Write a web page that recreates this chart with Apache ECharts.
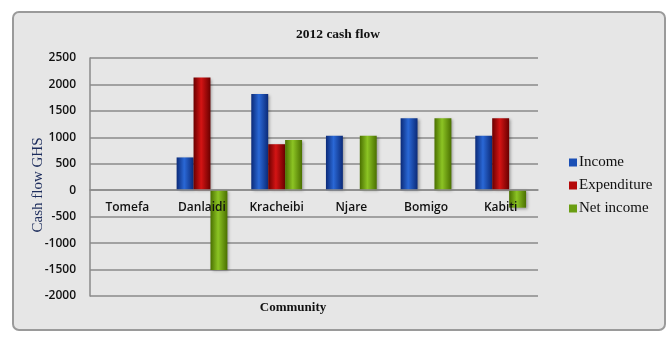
<!DOCTYPE html>
<html><head><meta charset="utf-8">
<script src="https://cdn.jsdelivr.net/npm/echarts@6/dist/echarts.min.js"></script>
<style>html,body{margin:0;padding:0;background:#fff}#c{width:672px;height:340px}</style>
</head><body><div id="c"></div>
<script>
const categories = ['Tomefa','Danlaidi','Kracheibi','Njare','Bomigo','Kabiti'];
const income = [0, 620, 1820, 1030, 1360, 1030];
const expenditure = [0, 2130, 870, 0, 0, 1360];
const netIncome = [0, -1510, 950, 1030, 1360, -330];
const yTicks = {min: -2000, max: 2500, interval: 500};

function grad(edge, mid) {
  return new echarts.graphic.LinearGradient(0, 0, 1, 0, [
    {offset: 0, color: edge}, {offset: 0.45, color: mid}, {offset: 1, color: edge}
  ]);
}
const serif = '"Liberation Serif", "DejaVu Serif", serif';
const sans = '"Open Sans", "Liberation Sans", sans-serif';
const chart = echarts.init(document.getElementById('c'), null, {renderer: 'canvas'});
function mk(name, data, edge, mid) {
  return {
    name, type: 'bar', data, barGap: '0%', barCategoryGap: '32%',
    itemStyle: {color: grad(edge, mid), shadowBlur: 3, shadowColor: 'rgba(0,0,0,0.35)', shadowOffsetX: 2, shadowOffsetY: 1},
    emphasis: {disabled: true}
  };
}
chart.setOption({
  animation: false,
  backgroundColor: '#ffffff',
  graphic: [{
    type: 'rect', z: -10, silent: true,
    shape: {x: 13, y: 12, width: 652, height: 318, r: 6},
    style: {fill: '#e6e6e6', stroke: '#9a9a9a', lineWidth: 2}
  }],
  title: {
    text: '2012 cash flow', left: 333, top: 23, textAlign: 'center',
    textStyle: {fontFamily: serif, fontWeight: 'bold', fontSize: 13.5, color: '#111'}
  },
  legend: {
    orient: 'vertical', left: 564, top: 150, itemWidth: 8, itemHeight: 8, itemGap: 8,
    icon: 'rect',
    textStyle: {fontFamily: serif, fontSize: 15, color: '#111', padding: [0, 0, 0, -3]},
    data: [
      {name: 'Income', itemStyle: {color: '#1a4fb5'}},
      {name: 'Expenditure', itemStyle: {color: '#b50808'}},
      {name: 'Net income', itemStyle: {color: '#6a9e12'}}
    ]
  },
  grid: {left: 90, right: 134, top: 58, bottom: 44, containLabel: false, outerBoundsMode: 'none'},
  xAxis: {
    type: 'category', data: categories, position: 'bottom', offset: -106, z: 5,
    name: 'Community', nameLocation: 'middle', nameGap: 111, nameMoveOverlap: false,
    nameTextStyle: {fontFamily: serif, fontWeight: 'bold', fontSize: 13, color: '#111', padding: [0, 42, 0, 0]},
    axisLine: {show: true, onZero: false, lineStyle: {color: '#8a8a8a', width: 1.5}}, axisTick: {show: false},
    axisLabel: {fontFamily: sans, fontWeight: 600, fontSize: 12, color: '#111', margin: 12}
  },
  yAxis: {
    type: 'value', min: yTicks.min, max: yTicks.max, interval: yTicks.interval,
    name: 'Cash flow GHS', nameLocation: 'middle', nameGap: 44, nameMoveOverlap: false,
    nameTextStyle: {fontFamily: serif, fontSize: 15, color: '#1c2c5c', padding: [0, 16, 0, 0]},
    axisLine: {show: true, lineStyle: {color: '#8a8a8a', width: 1.5}},
    axisTick: {show: false},
    splitLine: {lineStyle: {color: '#8a8a8a', width: 1.5}},
    axisLabel: {fontFamily: sans, fontWeight: 600, fontSize: 12, color: '#111', margin: 14,
      formatter: v => String(v)}
  },
  series: [
    mk('Income', income, '#0b2a78', '#2a68d6'),
    mk('Expenditure', expenditure, '#6a0000', '#d41414'),
    mk('Net income', netIncome, '#4a7000', '#8cc424')
  ]
});
</script></body></html>
